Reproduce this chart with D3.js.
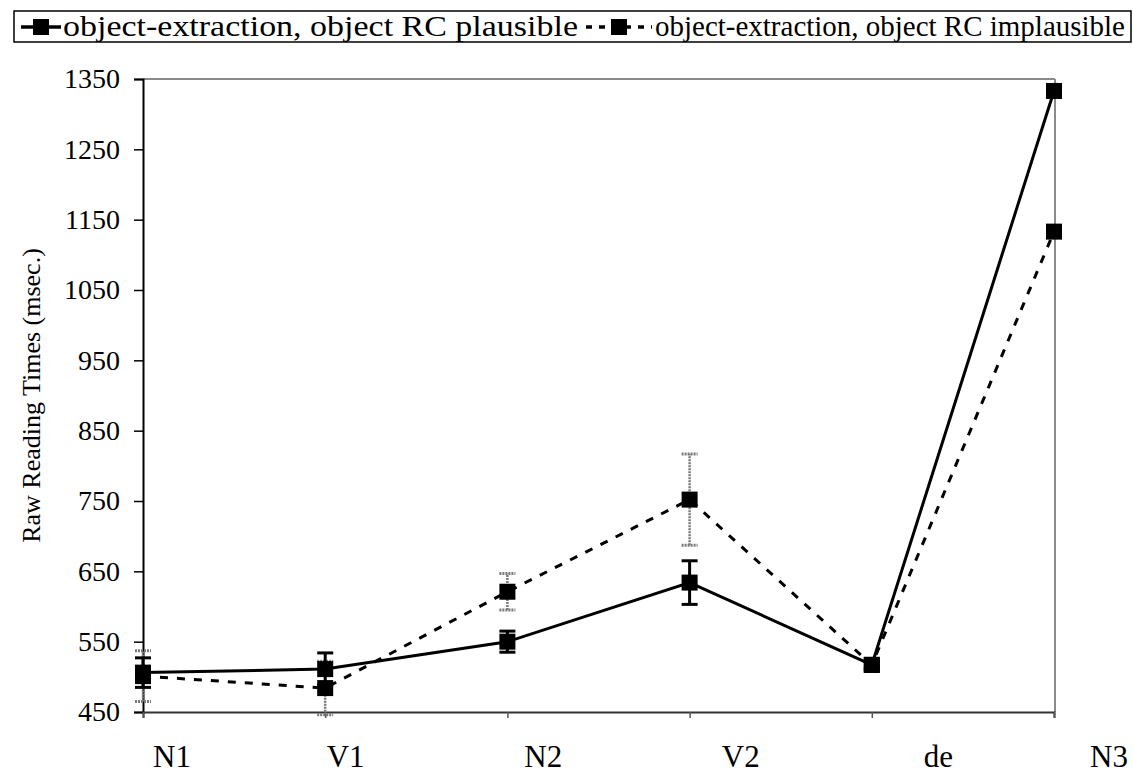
<!DOCTYPE html>
<html>
<head>
<meta charset="utf-8">
<script src="https://cdn.jsdelivr.net/npm/d3@7"></script>
<style>
  body { margin: 0; background: #fff; }
  svg { display: block; font-family: "Liberation Serif", "Times New Roman", serif; }
</style>
</head>
<body>
<svg id="chart" width="1133" height="778"></svg>
<script>
// ---- data ----
const categories = ["N1", "V1", "N2", "V2", "de", "N3"];
const plausible = [506, 511, 550, 634, 517, 1333];
const plausibleErr = [21, 23, 15, 31, 5, 5];
const implausible = [501, 484, 621, 752, 517, 1133];
const implausibleErr = [36, 38, 26, 65, 8, 8];
const yTicks = [450, 550, 650, 750, 850, 950, 1050, 1150, 1250, 1350];
const seriesNames = ["object-extraction, object RC plausible", "object-extraction, object RC implausible"];
const yTitle = "Raw Reading Times (msec.)";

(function () {
// ---- layout ----
const svg = d3.select("#chart");
const pL = 143, pR = 1055, pT = 79, pB = 712;

const x = d3.scalePoint().domain(categories).range([pL, pR - 1]).padding(0);
const xLabel = d3.scalePoint().domain(categories).range([148, 1136]).padding(0);
const y = d3.scaleLinear().domain([450, 1350]).range([pB, pT]);

// plot border (gray top & right)
svg.append("line").attr("x1", pL).attr("x2", pR).attr("y1", pT).attr("y2", pT)
  .attr("stroke", "#8a8a8a").attr("stroke-width", 2);
svg.append("line").attr("x1", pR).attr("x2", pR).attr("y1", pT).attr("y2", pB)
  .attr("stroke", "#8a8a8a").attr("stroke-width", 2);

// y axis
const yAxis = d3.axisLeft(y).tickValues(yTicks).tickSize(9).tickPadding(14).tickFormat(d3.format("d"));
const gy = svg.append("g").attr("transform", `translate(${pL},0)`).call(yAxis);
gy.attr("font-family", "Liberation Serif");
gy.select(".domain").attr("stroke", "#000").attr("stroke-width", 2);
gy.selectAll(".tick line").attr("stroke", "#000").attr("stroke-width", 1.5);
gy.selectAll(".tick text").attr("font-size", 28).attr("fill", "#000");

// x axis (ticks only, labels separate)
const xAxis = d3.axisBottom(x).tickSize(6).tickFormat("");
const gx = svg.append("g").attr("transform", `translate(0,${pB})`).call(xAxis);
gx.select(".domain").attr("stroke", "#333").attr("stroke-width", 2);
gx.selectAll(".tick line").attr("stroke", "#555").attr("stroke-width", 1.5);

const labelMinX = 153, labelMaxX = 1128;
svg.append("g").selectAll("text").data(categories).join("text")
  .attr("y", 767)
  .attr("text-anchor", "middle").attr("font-size", 31).attr("fill", "#000")
  .text(d => d)
  .attr("x", function (d) {
    const w = this.getComputedTextLength();
    let c = xLabel(d);
    c = Math.max(c, labelMinX + w / 2);
    c = Math.min(c, labelMaxX - w / 2);
    return c;
  });

// y title
svg.append("text")
  .attr("transform", `translate(40,${(pT + pB) / 2}) rotate(-90)`)
  .attr("text-anchor", "middle").attr("font-size", 26).attr("fill", "#000")
  .text(yTitle);

// ---- series ----
function drawSeries(values, errs, dashed) {
  const data = categories.map((c, i) => ({ c, v: values[i], e: errs[i] }));
  const g = svg.append("g");
  const errColor = dashed ? "#7a7a7a" : "#000";
  const eb = g.append("g").selectAll("g").data(data).join("g");
  eb.append("line")
    .attr("x1", d => x(d.c)).attr("x2", d => x(d.c))
    .attr("y1", d => y(d.v - d.e)).attr("y2", d => y(d.v + d.e))
    .attr("stroke", errColor).attr("stroke-width", dashed ? 2.5 : 3)
    .attr("stroke-dasharray", dashed ? "2,1" : null);
  [1, -1].forEach(s => {
    eb.append("line")
      .attr("x1", d => x(d.c) - 8).attr("x2", d => x(d.c) + 8)
      .attr("y1", d => y(d.v + s * d.e)).attr("y2", d => y(d.v + s * d.e))
      .attr("stroke", errColor).attr("stroke-width", 3)
      .attr("stroke-dasharray", dashed ? "2,1" : null);
  });
  g.append("path").datum(data)
    .attr("d", d3.line().x(d => x(d.c)).y(d => y(d.v)))
    .attr("fill", "none").attr("stroke", "#000").attr("stroke-width", 3)
    .attr("stroke-dasharray", dashed ? "8,9" : null);
  g.append("g").selectAll("rect").data(data).join("rect")
    .attr("x", d => x(d.c) - 8).attr("y", d => y(d.v) - 8)
    .attr("width", 16).attr("height", 16).attr("fill", "#000");
}
drawSeries(implausible, implausibleErr, true);
drawSeries(plausible, plausibleErr, false);

// ---- legend ----
const lg = svg.append("g");
lg.append("rect").attr("x", 14).attr("y", 11).attr("width", 1117).attr("height", 31)
  .attr("fill", "#fff").attr("stroke", "#000").attr("stroke-width", 1.5);
const legendItems = [
  { name: seriesNames[0], dashed: false, x0: 21, x1: 61, tx: 63, tw: 515 },
  { name: seriesNames[1], dashed: true, x0: 586, x1: 652, tx: 655, tw: 470 }
];
legendItems.forEach(it => {
  lg.append("line").attr("x1", it.x0).attr("x2", it.x1).attr("y1", 27).attr("y2", 27)
    .attr("stroke", "#000").attr("stroke-width", 3.5)
    .attr("stroke-dasharray", it.dashed ? "6,7" : null);
  lg.append("rect").attr("x", (it.x0 + it.x1) / 2 - 8).attr("y", 19)
    .attr("width", 16).attr("height", 16).attr("fill", "#000");
  lg.append("text").attr("x", it.tx).attr("y", 36)
    .attr("font-size", 29).attr("fill", "#000")
    .attr("textLength", it.tw).attr("lengthAdjust", "spacingAndGlyphs")
    .text(it.name);
});
})();
</script>
</body>
</html>
